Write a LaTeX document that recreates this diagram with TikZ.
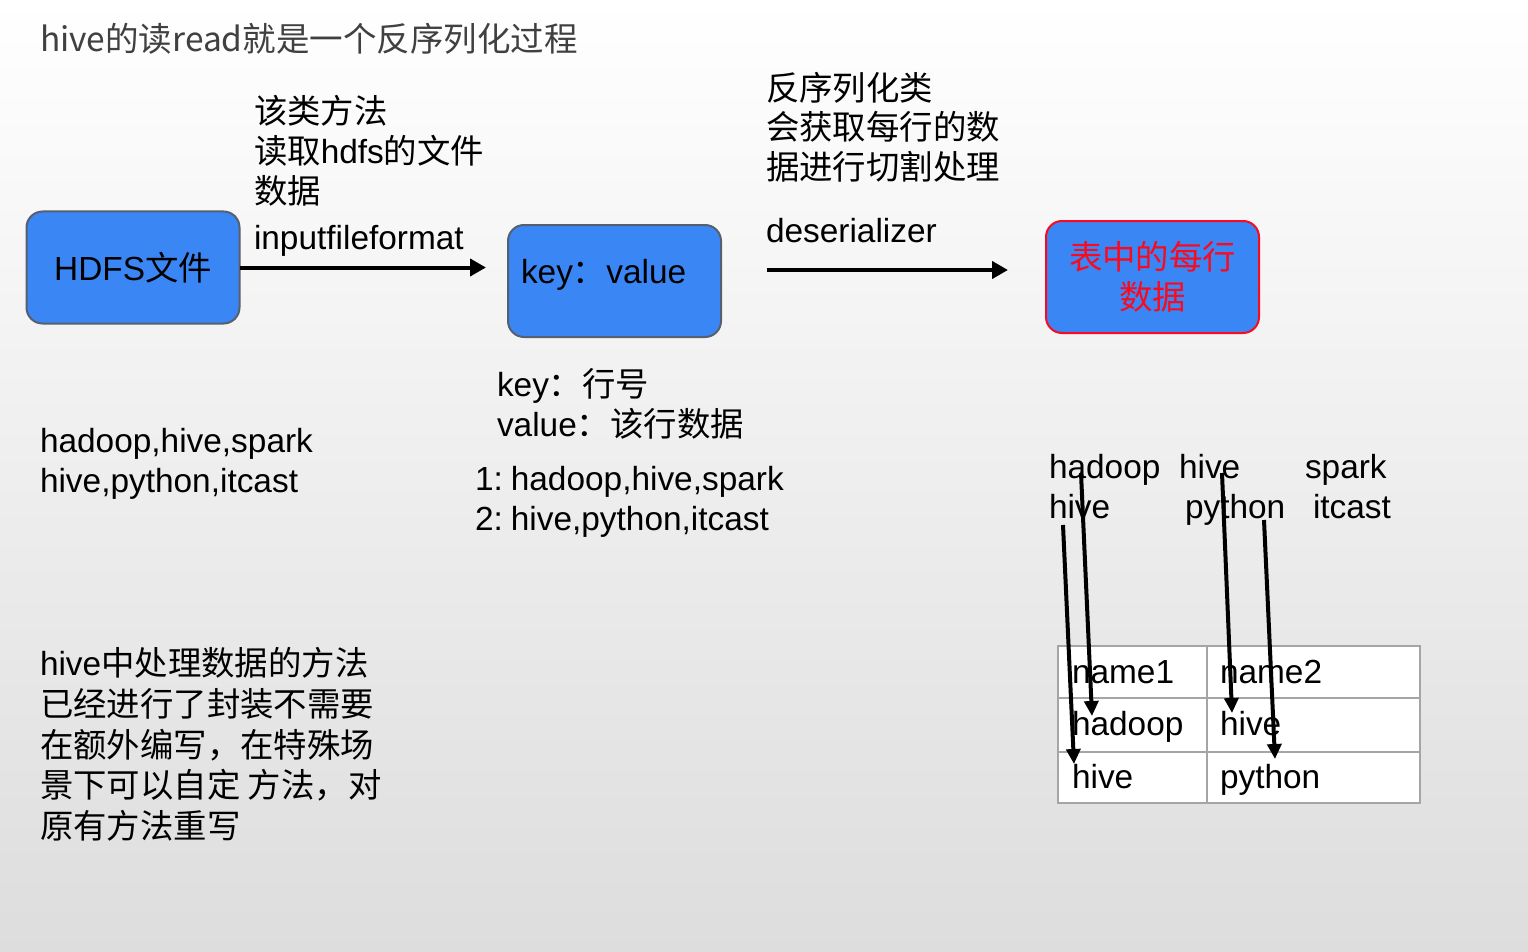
\documentclass[tikz,border=0pt]{standalone}
\usepackage{fontspec}
\setmainfont{Liberation Sans}
\newfontfamily\cjk{Noto Sans CJK SC}
\newcommand\zh[1]{{\cjk #1}}
\usetikzlibrary{arrows.meta}
\definecolor{boxblue}{RGB}{59,134,245}
\definecolor{boxedge}{RGB}{85,95,110}
\definecolor{hotred}{RGB}{250,10,30}
\definecolor{titlegray}{RGB}{64,64,64}
\definecolor{tablegray}{RGB}{165,165,165}
\definecolor{bgbottom}{RGB}{221,221,221}
\begin{document}
\begin{tikzpicture}[x=1pt,y=-1pt,
  every node/.style={inner sep=0pt, outer sep=0pt},
  txt/.style={anchor=base west, font=\fontsize{33.4}{40}\selectfont},
  bluebox/.style={draw=boxedge, line width=2pt, fill=boxblue, rounded corners=16pt,
    minimum width=213pt, minimum height=112pt, font=\fontsize{33.4}{40}\selectfont},
  redbox/.style={bluebox, draw=hotred, text=hotred, align=center},
  cell/.style={draw=tablegray, line width=1.5pt, fill=white, anchor=north west},
  flow/.style={line width=4pt, -{Triangle[length=16pt,width=17pt]}},
  pick/.style={line width=4pt, -{Triangle[length=15pt,width=14pt]}}]

% background and page frame
\shade[top color=white, bottom color=bgbottom] (0,0) rectangle (1528,952);
\useasboundingbox (0,0) rectangle (1528,952);

% title
\node[txt, text=titlegray, font=\fontsize{33.5}{40}\selectfont\cjk] (title) at (40,52) {hive的读read就是一个反序列化过程};

% main flow boxes
\node[bluebox] (hdfs) at (133,267.5) {HDFS\zh{文件}};
\node[bluebox] (kv) at (614.5,281) {};
\node[txt] (kvlabel) at (521,283) {key\zh{：}value};
\node[redbox] (row) at (1152.5,277) {\zh{表中的每行}\\\zh{数据}};

% flow arrows
\draw[flow] (hdfs.east) -- ([xshift=-22pt]hdfs.east -| kv.west);
\coordinate (d1) at (767,270);
\coordinate (d2) at (1008,270);
\draw[flow] (d1) -- (d2);

% notes over the first arrow
\node[txt] (n1a) at (254,124) {\zh{该类方法}};
\node[txt] (n1b) at (254,164) {\zh{读取}hdfs\zh{的文件}};
\node[txt] (n1c) at (254,204) {\zh{数据}};
\node[txt] (n1d) at (254,249) {inputfileformat};

% notes over the second arrow
\node[txt] (n2a) at (766,101) {\zh{反序列化类}};
\node[txt] (n2b) at (766,140) {\zh{会获取每行的数}};
\node[txt] (n2c) at (766,180) {\zh{据进行切割处理}};
\node[txt] (n2d) at (766,242) {deserializer};

% key/value explanation
\node[txt] (k1) at (497,396) {key\zh{：行号}};
\node[txt] (k2) at (497,436) {value\zh{：该行数据}};
\node[txt] (r1) at (475,490) {1:\hspace{8pt}hadoop,hive,spark};
\node[txt] (r2) at (475,530) {2:\hspace{8pt}hive,python,itcast};

% raw file lines
\node[txt] (f1) at (40,452) {hadoop,hive,spark};
\node[txt] (f2) at (40,492) {hive,python,itcast};

% remark
\node[txt] (m1) at (40,675) {hive\zh{中处理数据的方法}};
\node[txt] (m2) at (40,716) {\zh{已经进行了封装不需要}};
\node[txt] (m3) at (40,757) {\zh{在额外编写，在特殊场}};
\node[txt] (m4) at (40,797) {\zh{景下可以自定 方法，对}};
\node[txt] (m5) at (40,838) {\zh{原有方法重写}};

% split fields
\node[txt] (w11) at (1049,478) {hadoop};
\node[txt] (w12) at (1179,478) {hive};
\node[txt] (w13) at (1305,478) {spark};
\node[txt] (w21) at (1049,518) {hive};
\node[txt] (w22) at (1185,518) {python};
\node[txt] (w23) at (1313,518) {itcast};

% table
\node[cell, minimum width=149pt, minimum height=52pt] (c11) at (1058,646) {};
\node[cell, minimum width=213pt, minimum height=52pt] (c12) at (1207,646) {};
\node[cell, minimum width=149pt, minimum height=54pt] (c21) at (1058,698) {};
\node[cell, minimum width=213pt, minimum height=54pt] (c22) at (1207,698) {};
\node[cell, minimum width=149pt, minimum height=51pt] (c31) at (1058,752) {};
\node[cell, minimum width=213pt, minimum height=51pt] (c32) at (1207,752) {};
\node[txt] (h1) at (1072,683) {name1};
\node[txt] (h2) at (1220,683) {name2};
\node[txt] (v11) at (1072,735) {hadoop};
\node[txt] (v12) at (1220,735) {hive};
\node[txt] (v21) at (1072,788) {hive};
\node[txt] (v22) at (1220,788) {python};

% field-to-column arrows
\coordinate (s1) at (1081,473);  \coordinate (e1) at (1092,716);
\coordinate (s2) at (1063,525);  \coordinate (e2) at (1074,764);
\coordinate (s3) at (1222,473);  \coordinate (e3) at (1232,713);
\coordinate (s4) at (1264,520);  \coordinate (e4) at (1275,759);
\draw[pick] (s1) -- (e1);
\draw[pick] (s2) -- (e2);
\draw[pick] (s3) -- (e3);
\draw[pick] (s4) -- (e4);
\end{tikzpicture}
\end{document}
